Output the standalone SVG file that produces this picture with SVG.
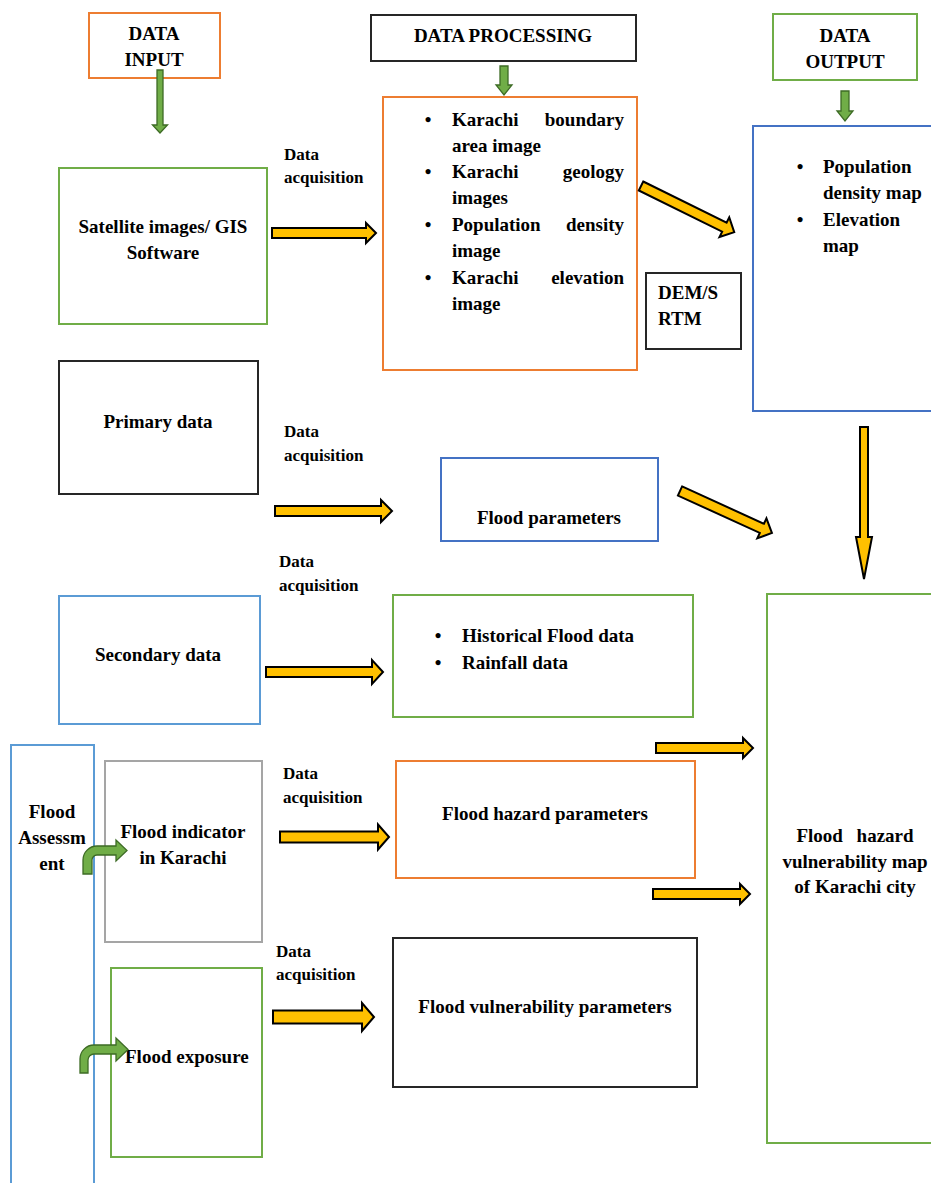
<svg xmlns="http://www.w3.org/2000/svg" width="931" height="1183" viewBox="0 0 931 1183">
<style>
  .box{fill:#fff;stroke-width:2}
  .or{stroke:#ED7D31}
  .gr{stroke:#70AD47}
  .bl{stroke:#4472C4}
  .lb{stroke:#5B9BD5}
  .gy{stroke:#A5A5A5}
  .bk{stroke:#262626}
  text{font-weight:bold;fill:#000}
  .t{font-size:19px}
  .c{text-anchor:middle}
  .e{text-anchor:end}
  .lab{font-size:17px}
  .ya{fill:#FFC000;stroke:#000;stroke-width:2;stroke-linejoin:miter}
  .ga{fill:#70AD47;stroke:#3D6B25;stroke-width:1.3}
</style>
<rect width="931" height="1183" fill="#fff"/>
<g font-family="Liberation Serif, Times New Roman, Tinos, DejaVu Serif, Noto Serif, serif">
<g id="data-input">
  <rect class="box or" x="89" y="13" width="131" height="65"/>
  <text class="t c" x="154" y="40">DATA</text>
  <text class="t c" x="154" y="66">INPUT</text>
</g>
<g id="data-processing">
  <rect class="box bk" x="371" y="15" width="265" height="46"/>
  <text class="t c" x="503" y="42">DATA PROCESSING</text>
</g>
<g id="data-output">
  <rect class="box gr" x="773" y="14" width="144" height="66"/>
  <text class="t c" x="845" y="42">DATA</text>
  <text class="t c" x="845" y="68">OUTPUT</text>
</g>
<g id="satellite">
  <rect class="box gr" x="59" y="168" width="208" height="156"/>
  <text class="t c" x="163" y="233">Satellite images/ GIS</text>
  <text class="t c" x="163" y="259">Software</text>
</g>
<g id="processing-list">
  <rect class="box or" x="383" y="97" width="254" height="273"/>
  <text class="t c" x="428" y="126">•</text>
  <text class="t"><tspan x="452" y="126">Karachi</tspan><tspan class="e" x="624" y="126">boundary</tspan></text>
  <text class="t" x="452" y="152">area image</text>
  <text class="t c" x="428" y="178">•</text>
  <text class="t"><tspan x="452" y="178">Karachi</tspan><tspan class="e" x="624" y="178">geology</tspan></text>
  <text class="t" x="452" y="204">images</text>
  <text class="t c" x="428" y="231">•</text>
  <text class="t"><tspan x="452" y="231">Population</tspan><tspan class="e" x="624" y="231">density</tspan></text>
  <text class="t" x="452" y="257">image</text>
  <text class="t c" x="428" y="284">•</text>
  <text class="t"><tspan x="452" y="284">Karachi</tspan><tspan class="e" x="624" y="284">elevation</tspan></text>
  <text class="t" x="452" y="310">image</text>
</g>
<g id="dem-srtm">
  <rect class="box bk" x="646" y="273" width="95" height="76"/>
  <text class="t" x="658" y="299">DEM/S</text>
  <text class="t" x="658" y="325">RTM</text>
</g>
<g id="output-list">
  <rect class="box bl" x="753" y="126" width="200" height="285"/>
  <text class="t c" x="800" y="173">•</text>
  <text class="t" x="823" y="173">Population</text>
  <text class="t" x="823" y="199">density map</text>
  <text class="t c" x="800" y="226">•</text>
  <text class="t" x="823" y="226">Elevation</text>
  <text class="t" x="823" y="252">map</text>
</g>
<g id="primary-data">
  <rect class="box bk" x="59" y="361" width="199" height="133"/>
  <text class="t c" x="158" y="428">Primary data</text>
</g>
<g id="flood-parameters">
  <rect class="box bl" x="441" y="458" width="217" height="83"/>
  <text class="t c" x="549" y="524">Flood parameters</text>
</g>
<g id="secondary-data">
  <rect class="box lb" x="59" y="596" width="201" height="128"/>
  <text class="t c" x="158" y="661">Secondary data</text>
</g>
<g id="historical">
  <rect class="box gr" x="393" y="595" width="300" height="122"/>
  <text class="t c" x="438" y="642">•</text>
  <text class="t" x="462" y="642">Historical Flood data</text>
  <text class="t c" x="438" y="669">•</text>
  <text class="t" x="462" y="669">Rainfall data</text>
</g>
<g id="final-map">
  <rect class="box gr" x="767" y="594" width="200" height="549"/>
  <text class="t c" x="855" y="842" word-spacing="9">Flood hazard</text>
  <text class="t c" x="855" y="868">vulnerability map</text>
  <text class="t c" x="855" y="893">of Karachi city</text>
</g>
<g id="flood-assessment">
  <rect class="box lb" x="11" y="745" width="83" height="460"/>
  <text class="t c" x="52" y="818">Flood</text>
  <text class="t c" x="52" y="844">Assessm</text>
  <text class="t c" x="52" y="870">ent</text>
</g>
<g id="flood-indicator">
  <rect class="box gy" x="105" y="761" width="157" height="181"/>
  <text class="t c" x="183" y="838">Flood indicator</text>
  <text class="t c" x="183" y="864">in Karachi</text>
</g>
<g id="flood-hazard-parameters">
  <rect class="box or" x="396" y="761" width="299" height="117"/>
  <text class="t c" x="545" y="820">Flood hazard parameters</text>
</g>
<g id="flood-exposure">
  <rect class="box gr" x="111" y="968" width="151" height="189"/>
  <text class="t" x="125" y="1063">Flood exposure</text>
</g>
<g id="flood-vulnerability-parameters">
  <rect class="box bk" x="393" y="938" width="304" height="149"/>
  <text class="t c" x="545" y="1013">Flood vulnerability parameters</text>
</g>

<g id="labels">
  <text class="lab" x="284" y="160">Data</text>
  <text class="lab" x="284" y="183">acquisition</text>
  <text class="lab" x="284" y="437">Data</text>
  <text class="lab" x="284" y="461">acquisition</text>
  <text class="lab" x="279" y="567">Data</text>
  <text class="lab" x="279" y="591">acquisition</text>
  <text class="lab" x="283" y="779">Data</text>
  <text class="lab" x="283" y="803">acquisition</text>
  <text class="lab" x="276" y="957">Data</text>
  <text class="lab" x="276" y="980">acquisition</text>
</g>
</g>

<g id="connectors">
  <polygon class="ga" points="157,70 163,70 163,125 167.5,125 160,133 152.5,125 157,125"/>
  <polygon class="ga" points="500,66 508,66 508,85 512,85 504,95 496,85 500,85"/>
  <polygon class="ga" points="841,91 849,91 849,111 853,111 845,121 837,111 841,111"/>
  <path class="ga" d="M83,874 L83,860 A14,14 0 0 1 97,846 L116,846 L116,840 L127,850.5 L116,861 L116,855 L97,855 A5,5 0 0 0 92,860 L92,874 Z"/>
  <path class="ga" d="M80,1073 L80,1059 A14,14 0 0 1 94,1045 L116,1045 L116,1038 L128,1049.5 L116,1061 L116,1054 L94,1054 A6,6 0 0 0 88,1060 L88,1073 Z"/>

  <polygon class="ya" transform="translate(272,233)" points="0,-5 94,-5 94,-10 104,0 94,10 94,5 0,5"/>
  <polygon class="ya" transform="translate(641,186) rotate(26.3)" points="0,-5 93,-5 93,-11 104,0 93,11 93,5 0,5"/>
  <polygon class="ya" transform="translate(275,511)" points="0,-5 106,-5 106,-11 117,0 106,11 106,5 0,5"/>
  <polygon class="ya" transform="translate(680,491) rotate(24.5)" points="0,-5 90,-5 90,-11 101,0 90,11 90,5 0,5"/>
  <polygon class="ya" transform="translate(864,427) rotate(90)" points="0,-4 110,-4 110,-8 152,0 110,8 110,4 0,4"/>
  <polygon class="ya" transform="translate(266,672)" points="0,-5 106,-5 106,-12 117,0 106,12 106,5 0,5"/>
  <polygon class="ya" transform="translate(656,748)" points="0,-5 87,-5 87,-10 97,0 87,10 87,5 0,5"/>
  <polygon class="ya" transform="translate(653,894)" points="0,-5 87,-5 87,-10 97,0 87,10 87,5 0,5"/>
  <polygon class="ya" transform="translate(280,837)" points="0,-5.5 98,-5.5 98,-12.5 109,0 98,12.5 98,5.5 0,5.5"/>
  <polygon class="ya" transform="translate(273,1017)" points="0,-6.5 89,-6.5 89,-14 101,0 89,14 89,6.5 0,6.5"/>
</g>
</svg>
